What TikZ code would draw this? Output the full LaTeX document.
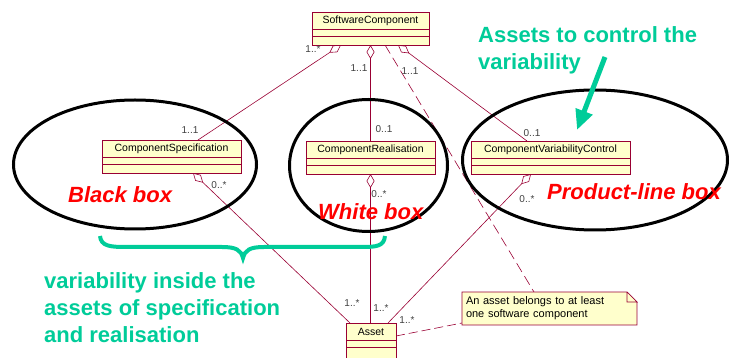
\documentclass[tikz,border=0pt]{standalone}
\usepackage{fontspec}
\setmainfont{Liberation Sans}
\usetikzlibrary{arrows.meta,calc}
\definecolor{umlred}{RGB}{153,0,51}
\definecolor{umlfill}{RGB}{255,255,204}
\definecolor{hintgreen}{RGB}{0,204,153}
\tikzset{>=latex,
  classname/.style={draw=umlred, fill=umlfill, line width=0.7pt, inner sep=0pt, outer sep=0pt,
    minimum height=17pt, font=\fontsize{10.5}{12}\selectfont},
  classpart/.style={draw=umlred, fill=umlfill, line width=0.7pt},
  assoc/.style={umlred, line width=0.6pt},
  agg/.style={assoc, arrows={Diamond[open,length=14pt,width=8pt]-}},
  depend/.style={umlred, line width=0.6pt, dash pattern=on 10pt off 5pt},
  mult/.style={font=\fontsize{10}{11}\selectfont, inner sep=0pt, text=black!75},
  bubble/.style={black, line width=3pt},
  boxname/.style={red, font=\fontsize{22}{25}\selectfont\bfseries\itshape, inner sep=0pt, anchor=base west},
  hint/.style={hintgreen, align=left, font=\fontsize{22}{27}\selectfont\bfseries, inner sep=0pt, anchor=north west},
  notebox/.style={fill=umlfill, inner sep=4pt, outer sep=0pt, minimum width=175pt, minimum height=33pt,
    text width=167pt, align=left, font=\fontsize{11}{13}\selectfont}
}
% class box: name, left, top, width, text, height of last part
\newcommand{\umlclass}[6]{%
  \node[classname, minimum width=#4pt] (#1) at ({#2+#4/2},{#3+8.5}) {#5};
  \draw[classpart] (#1.south west) rectangle ++(#4,7);
  \draw[classpart] ($(#1.south west)+(0,7)$) rectangle ++(#4,#6);
}

\begin{document}
\begin{tikzpicture}[x=1pt, y=-1pt]
\useasboundingbox (0,0) rectangle (732,358);

% ends of the associations
\coordinate (sc-spec) at (341,45);
\coordinate (sc-real) at (370.5,45);
\coordinate (sc-ctrl) at (398,45);
\coordinate (sc-note) at (385,45);
\coordinate (spec-top) at (198,140);
\coordinate (real-top) at (370.5,141);
\coordinate (ctrl-top) at (527,141);
\coordinate (spec-bot) at (193,173);
\coordinate (real-bot) at (370.5,174);
\coordinate (ctrl-bot) at (531,174);
\coordinate (asset-l) at (350,323);
\coordinate (asset-m) at (370.5,323);
\coordinate (asset-r) at (388,323);
\coordinate (asset-e) at (396,336);
\coordinate (note-w) at (462,323);
\coordinate (note-top) at (534,292);

\draw[agg] (sc-spec) -- (spec-top);
\draw[agg] (sc-real) -- (real-top);
\draw[agg] (sc-ctrl) -- (ctrl-top);
\draw[depend] (sc-note) -- (note-top);
\draw[agg] (spec-bot) -- (asset-l);
\draw[agg] (real-bot) -- (asset-m);
\draw[agg] (ctrl-bot) -- (asset-r);
\draw[depend, dash pattern=on 9pt off 4pt] (asset-e) -- (note-w);

% the three kinds of box
\draw[bubble] (135,164.5) ellipse [x radius=121.5, y radius=64.5];
\draw[bubble] (368.5,165.5) ellipse [x radius=79, y radius=66];
\draw[bubble] (595,160) ellipse [x radius=132.5, y radius=70];

\umlclass{sc}{312}{12}{117}{SoftwareComponent}{9}
\umlclass{cs}{102}{140}{139}{ComponentSpecification}{9}
\umlclass{cr}{306}{141}{129}{ComponentRealisation}{9}
\umlclass{cvc}{471}{141}{159}{ComponentVariabilityControl}{9}
\umlclass{asset}{346}{323}{50}{Asset}{20}

% note with folded corner
\node[notebox] (note) at (549.5,308.5) {An asset belongs to at least\\one software component};
\fill[white] (note.north east) -- ++(-10,0) -- ++(10,10) -- cycle;
\draw[umlred, line width=0.7pt] (note.north east) ++(-10,0) -- ++(0,10) -- ++(10,0)
  -- ++(-10,-10) -- (note.north west) -- (note.south west) -- (note.south east) -- ++(0,-23);

% multiplicities
\node[mult] (m1) at (313,49) {1..*};
\node[mult] (m2) at (359,68) {1..1};
\node[mult] (m3) at (410,71) {1..1};
\node[mult] (m4) at (190,130) {1..1};
\node[mult] (m5) at (384,129) {0..1};
\node[mult] (m6) at (532,133) {0..1};
\node[mult] (m7) at (219,185) {0..*};
\node[mult] (m8) at (379,194) {0..*};
\node[mult] (m9) at (527,199) {0..*};
\node[mult] (m10) at (352,303) {1..*};
\node[mult] (m11) at (381,308) {1..*};
\node[mult] (m12) at (407,320) {1..*};

\node[boxname] (black) at (68,203) {Black box};
\node[boxname] (white) at (318,220) {White box};
\node[boxname] (product) at (547,200) {Product-line box};

\node[hint] (ctrl-hint) at (478,26) {Assets to control the\\variability};
\draw[hintgreen, line width=5pt, -{Triangle[length=20pt,width=17pt]}] (605,57) -- (577,130);

\draw[hintgreen, line width=4pt] (100,236) .. controls (101,246) and (110,247) .. (125,247) -- (222,247)
  .. controls (236,247) and (241,250) .. (243,258) .. controls (245,250) and (250,247) .. (264,247)
  -- (362,247) .. controls (377,247) and (384,246) .. (385,236);
\node[hint] (var-hint) at (44,272) {variability inside the\\assets of specification\\and realisation};
\end{tikzpicture}
\end{document}
